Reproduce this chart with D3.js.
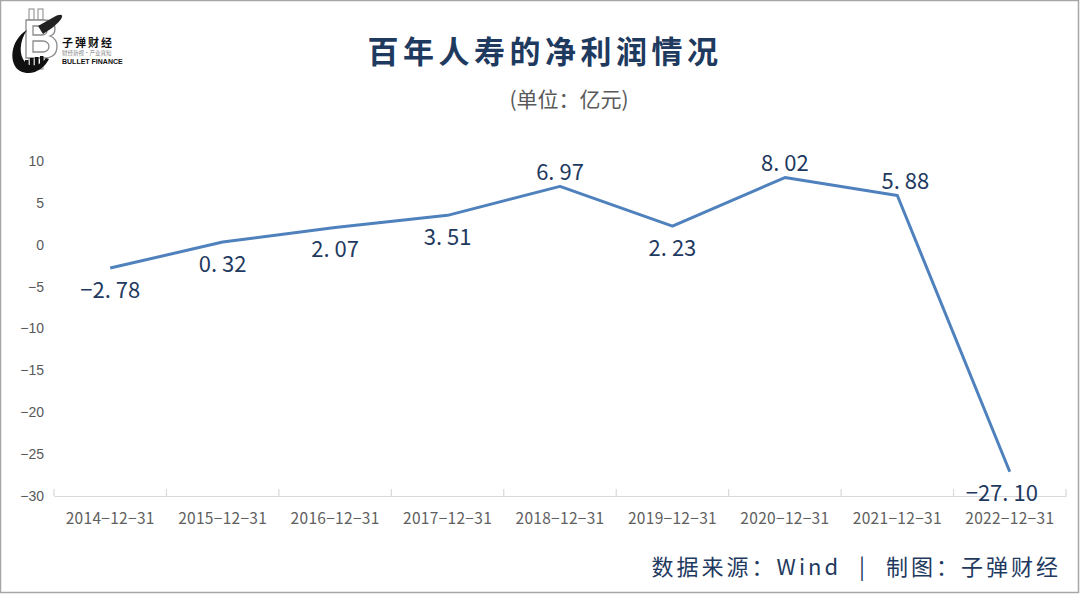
<!DOCTYPE html>
<html>
<head>
<meta charset="utf-8">
<script src="https://cdn.jsdelivr.net/npm/d3@7"></script>
<style>
  html, body { margin: 0; padding: 0; background: #fff; }
  svg { display: block; font-family: "Noto Sans CJK SC", "Noto Sans", sans-serif; }
</style>
</head>
<body>
<div id="chart"></div>
<script>
// data
var categories = ['2014-12-31', '2015-12-31', '2016-12-31', '2017-12-31', '2018-12-31',
                  '2019-12-31', '2020-12-31', '2021-12-31', '2022-12-31'];
var netProfit = [-2.78, 0.32, 2.07, 3.51, 6.97, 2.23, 8.02, 5.88, -27.10];
var labelSide = ['below', 'below', 'below', 'below', 'above', 'below', 'above', 'above', 'below'];
var yTicks = [10, 5, 0, -5, -10, -15, -20, -25, -30];

var W = 1080, H = 594;
var navy = '#1f3a5f', grey = '#595959', lineColor = '#4f81bd';

var svg = d3.select('#chart').append('svg')
    .attr('width', W)
    .attr('height', H);

// frame
svg.append('rect')
    .attr('x', 0.5).attr('y', 0.5)
    .attr('width', W - 2).attr('height', H - 2)
    .attr('fill', '#fff')
    .attr('stroke', '#a6a6a6')
    .attr('stroke-width', 1.5);

// scales
var x = d3.scaleBand()
    .domain(categories)
    .range([54, 1066]);

var y = d3.scaleLinear()
    .domain([-30, 10])
    .range([496, 161]);

// y tick labels (no axis line)
svg.append('g')
    .selectAll('text')
    .data(yTicks)
    .enter().append('text')
    .attr('x', 44)
    .attr('y', function(d) { return y(d); })
    .attr('dy', '0.35em')
    .attr('text-anchor', 'end')
    .attr('font-size', 14)
    .attr('font-family', '"Liberation Sans", Arial, sans-serif')
    .attr('fill', grey)
    .text(function(d) { return d3.format('')(d); });

// x axis at the bottom
var xAxis = d3.axisBottom(x).tickSize(0).tickPadding(17);
var gx = svg.append('g')
    .attr('transform', 'translate(0,' + y(-30) + ')')
    .call(xAxis);
gx.select('.domain').attr('stroke', '#d9d9d9').attr('stroke-width', 1.2);
gx.selectAll('text')
    .attr('font-size', 15.5)
    .attr('fill', '#606060')
    .attr('font-family', '"Noto Sans CJK SC", "Noto Sans", sans-serif')
    .attr('letter-spacing', 0.3)
    .text(function(d) { return d.replace(/-/g, '\u2212'); });

// category boundary ticks
var bounds = categories.map(function(c) { return x(c); }).concat([x.range()[1]]);
svg.append('g')
    .selectAll('line')
    .data(bounds)
    .enter().append('line')
    .attr('x1', function(d) { return d; })
    .attr('x2', function(d) { return d; })
    .attr('y1', y(-30) - 7)
    .attr('y2', y(-30))
    .attr('stroke', '#d9d9d9')
    .attr('stroke-width', 1.2);

// line
var line = d3.line()
    .x(function(d, i) { return x(categories[i]) + x.bandwidth() / 2; })
    .y(function(d) { return y(d); });

svg.append('path')
    .datum(netProfit)
    .attr('d', line)
    .attr('fill', 'none')
    .attr('stroke', lineColor)
    .attr('stroke-width', 3)
    .attr('stroke-linejoin', 'round');

// data labels, period has a wide gap in the reference font
var fmt = d3.format('.2f');
var labels = svg.append('g')
    .selectAll('text')
    .data(netProfit)
    .enter().append('text')
    .attr('x', function(d, i) {
        var cx = x(categories[i]) + x.bandwidth() / 2;
        if (i === 7) cx += 8;
        if (i === 8) cx -= 8;
        return cx;
    })
    .attr('y', function(d, i) {
        return labelSide[i] === 'above' ? y(d) - 14 : y(d) + 22;
    })
    .attr('dy', '0.35em')
    .attr('text-anchor', 'middle')
    .attr('font-size', 22)
    .attr('fill', navy);

labels.each(function(d) {
    var parts = fmt(d).split('.');
    var t = d3.select(this);
    t.append('tspan').text(parts[0] + '.');
    t.append('tspan').attr('dx', 5).text(parts[1]);
});

// title
svg.append('text')
    .attr('x', 545)
    .attr('y', 52)
    .attr('dy', '0.35em')
    .attr('text-anchor', 'middle')
    .attr('font-size', 31)
    .attr('font-weight', 'bold')
    .attr('letter-spacing', 4.5)
    .attr('fill', navy)
    .text('百年人寿的净利润情况');

svg.append('text')
    .attr('x', 569)
    .attr('y', 100)
    .attr('dy', '0.35em')
    .attr('text-anchor', 'middle')
    .attr('font-size', 21)
    .attr('fill', grey)
    .text('(单位：亿元)');

// footer
var foot = svg.append('text')
    .attr('x', 1061)
    .attr('y', 567)
    .attr('dy', '0.35em')
    .attr('text-anchor', 'end')
    .attr('font-size', 22)
    .attr('letter-spacing', 3)
    .attr('fill', navy);
foot.append('tspan').text('数据来源：Wind');
foot.append('tspan').attr('dx', 18).text('|');
foot.append('tspan').attr('dx', 18).text('制图：子弹财经');

// logo
var logo = svg.append('g');
// bitcoin B outline
[[29, 9], [38, 9], [29, 58], [38, 58]].forEach(function(p) {
    logo.append('rect')
        .attr('x', p[0]).attr('y', p[1])
        .attr('width', 5).attr('height', 11)
        .attr('fill', '#fff')
        .attr('stroke', '#9a9a9a')
        .attr('stroke-width', 1.2);
});
logo.append('path')
    .attr('d', 'M26,20 h18 c8,0 11,4 11,9 c0,4 -2,6 -5,7 c5,2 7,5 7,10 c0,8 -5,12 -13,12 h-18 z M33,26 v9 h9 c3,0 5,-2 5,-4.5 c0,-2.5 -2,-4.5 -5,-4.5 z M33,41 v11 h10 c3,0 6,-2 6,-5.5 c0,-3.5 -3,-5.5 -6,-5.5 z')
    .attr('fill', '#fff')
    .attr('fill-rule', 'evenodd')
    .attr('stroke', '#8a8a8a')
    .attr('stroke-width', 1.3);
// black swoosh
logo.append('path')
    .attr('d', 'M27,30 C10,40 8,64 20,71 C32,77 44,69 49,59 L46,58 C40,66 30,68 25,62 C19,55 19,42 27,30 z')
    .attr('fill', '#111');
// bars
[[25, 60, 10], [30, 58, 12], [35, 57, 12], [40, 56, 10]].forEach(function(b) {
    logo.append('rect')
        .attr('x', b[0]).attr('y', b[1])
        .attr('width', 3.5).attr('height', b[2])
        .attr('fill', '#111');
});
// bullet
logo.append('path')
    .attr('d', 'M38,26 L54,17 C59,14 63,14 62,17 C61,20 57,24 52,28 L43,34 z')
    .attr('fill', '#222');
logo.append('text')
    .attr('x', 62).attr('y', 47)
    .attr('font-size', 11).attr('font-weight', 'bold')
    .attr('letter-spacing', 2)
    .attr('fill', '#111')
    .text('子弹财经');
logo.append('text')
    .attr('x', 62).attr('y', 55)
    .attr('font-size', 5.5)
    .attr('fill', '#888')
    .text('财经新视·产业真知');
logo.append('text')
    .attr('x', 62).attr('y', 64)
    .attr('font-size', 7).attr('font-weight', 'bold')
    .attr('font-family', '"Liberation Sans", sans-serif')
    .attr('fill', '#111')
    .text('BULLET FINANCE');
</script>
</body>
</html>
